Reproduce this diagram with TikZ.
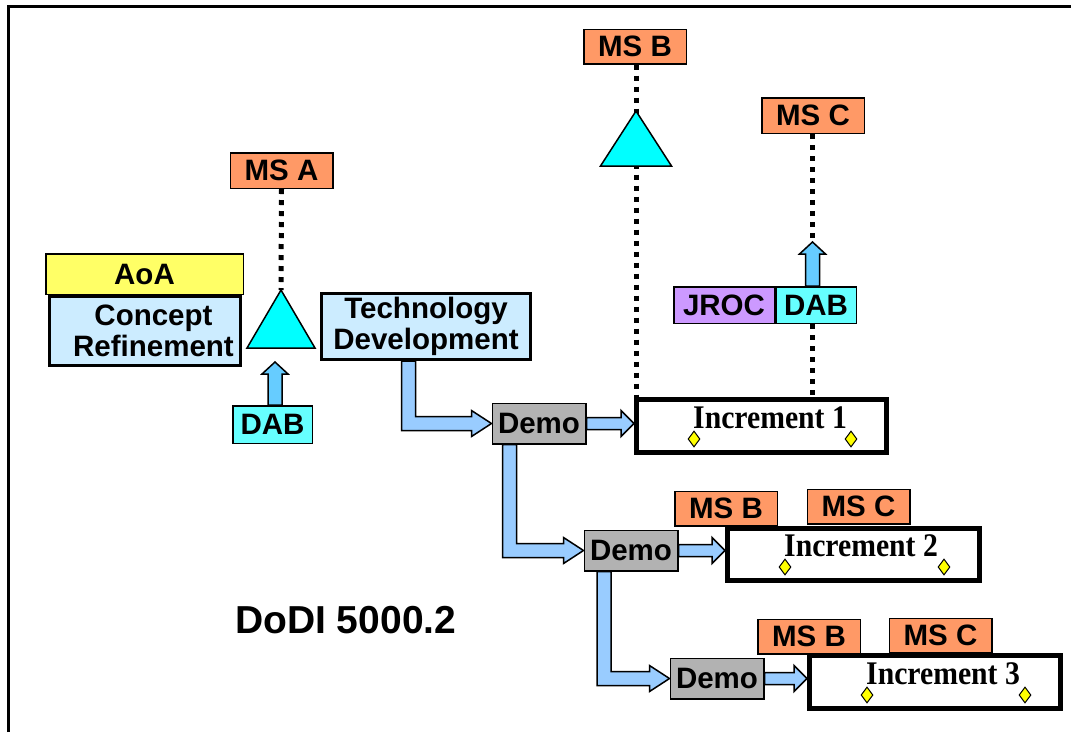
\documentclass[tikz,border=0pt]{standalone}
\usepackage{fontspec}
\setmainfont{Liberation Sans}
\newfontfamily\incfont[FakeStretch=0.9]{Liberation Serif}
\usetikzlibrary{calc,positioning,shapes.geometric}
\definecolor{msorange}{HTML}{FF9966}
\definecolor{aoayellow}{HTML}{FFFF66}
\definecolor{phaseblue}{HTML}{CCECFF}
\definecolor{dabcyan}{HTML}{66FFFF}
\definecolor{jrocpurple}{HTML}{CC99FF}
\definecolor{demogray}{HTML}{B2B2B2}
\definecolor{flowblue}{HTML}{99CCFF}
\definecolor{dabblue}{HTML}{66CCFF}
\definecolor{gatecyan}{HTML}{00FFFF}
\definecolor{gemyellow}{HTML}{FFFF00}
\newcommand{\boxfont}{\fontsize{29.5}{31}\selectfont\bfseries}

\begin{document}
\begin{tikzpicture}[x=1pt,y=-1pt,
    lbl/.style={draw,line width=1.5pt,inner sep=0pt,font=\boxfont},
    ms/.style={lbl,fill=msorange,minimum width=102.5pt,minimum height=34.5pt},
    phase/.style={lbl,fill=phaseblue,line width=3pt,align=center},
    demo/.style={lbl,fill=demogray,minimum width=93.5pt,minimum height=40.5pt},
    inc/.style={draw,line width=5pt,fill=white,inner sep=0pt,minimum height=53pt},
    inctext/.style={inner sep=0pt,font=\incfont\bfseries\fontsize{33}{35}\selectfont},
    gem/.style={diamond,draw,fill=gemyellow,line width=1pt,inner sep=0pt,minimum width=12pt,minimum height=16pt},
    gate/.style={draw,fill=gatecyan,line width=1.5pt},
    msline/.style={line width=5pt,dash pattern=on 5pt off 6pt},
    flow/.style={draw,fill=flowblue,line width=1.5pt},
    dabflow/.style={flow,fill=dabblue}]
\useasboundingbox (0,0) rectangle (1071,732);
\draw[line width=3pt] (8,732) -- (8,6) -- (1075,6);

% phases
\node[lbl,fill=aoayellow,minimum width=197.5pt,minimum height=40.5pt] (aoa) at (144.5,274) {AoA};
\node[phase,minimum width=191pt,minimum height=69pt] (cr) at (145,331) {\hspace*{17pt}Concept\\\hspace*{17pt}Refinement};
\node[phase,minimum width=209pt,minimum height=66pt] (td) at (426,326.5) {Technology\\Development};

% milestone A
\node[ms,minimum height=35.5pt] (msA) at (281.5,170.5) {MS A};
\coordinate (triA) at (281,290);
\draw[msline] (msA.south) -- (triA);
\draw[gate] (triA) -- ++(34,58) -- ++(-68,0) -- cycle;
\node[lbl,fill=dabcyan,minimum width=79.5pt,minimum height=37.5pt] (dabA) at (272.5,424.5) {DAB};
\coordinate (dabAtip) at (275,362);
\draw[dabflow] let \p1=($(dabA.north)+(2.5,0)$), \p2=(dabAtip) in
    (\x1-7pt,\y1) -- (\x1-7pt,\y2-12pt) -- (\x1-13pt,\y2-12pt) -- (\x1,\y2)
    -- (\x1+13pt,\y2-12pt) -- (\x1+7pt,\y2-12pt) -- (\x1+7pt,\y1) -- cycle;

% demos and increments
\node[demo] (demoA) at (539,423.5) {Demo};
\node[demo] (demoB) at (631,550.5) {Demo};
\node[demo] (demoC) at (717,678.5) {Demo};
\node[ms] (msB2) at (726,508.5) {MS B};
\node[ms] (msC2) at (858.5,506.5) {MS C};
\node[ms] (msB3) at (809,636.5) {MS B};
\node[ms] (msC3) at (940.5,635.5) {MS C};
\node[inc,minimum width=250pt] (incA) at (761.5,426) {};
\node[inc,minimum width=252pt,minimum height=52pt] (incB) at (853.5,554.5) {};
\node[inc,minimum width=251pt] (incC) at (935,682) {};
\foreach \i/\n in {incA/1,incB/2,incC/3}{
  \node[inctext,anchor=base west] (\i-t) at ($(\i.south west)+(59,-27)$) {Increment \n};
  \node[gem] (\i-l) at ($(\i.south west)+(60,-16)$) {};
  \node[gem] (\i-r) at ($(\i.south east)+(-38,-16)$) {};
}

% milestones B and C
\node[ms] (msB1) at (635,46.5) {MS B};
\coordinate (triB) at (636,111);
\draw[msline] (msB1.south -| triB) -- (triB |- incA.north);
\draw[gate] (triB) -- ++(35.5,55) -- ++(-71,0) -- cycle;
\node[ms,minimum height=35.5pt] (msC1) at (813,115.5) {MS C};
\node[lbl,fill=jrocpurple,minimum width=100.5pt,minimum height=36.5pt] (jroc) at (724,305) {JROC};
\node[lbl,fill=dabcyan,minimum width=80.5pt,minimum height=36.5pt,right=0pt of jroc] (dabB) {DAB};
\coordinate (dabBtip) at (812.5,242);
\draw[msline] (msC1.south -| dabBtip) -- (dabBtip);
\draw[msline] (dabBtip |- dabB.south) -- (dabBtip |- incA.north);
\draw[dabflow] let \p1=(dabBtip |- dabB.north), \p2=(dabBtip) in
    (\x1-7pt,\y1) -- (\x1-7pt,\y2-12pt) -- (\x1-13pt,\y2-12pt) -- (\x1,\y2)
    -- (\x1+13pt,\y2-12pt) -- (\x1+7pt,\y2-12pt) -- (\x1+7pt,\y1) -- cycle;

% flow arrows
\foreach \src/\dst/\off in {td/demoA/88.5,demoA/demoB/18,demoB/demoC/20.5}
  \draw[flow] let \p1=($(\src.south west)+(\off,0)$), \p2=(\dst.west) in
    (\x1-7pt,\y1) -- (\x1-7pt,\y2-7pt) -- (\x2-20pt,\y2-7pt) -- (\x2-20pt,\y2-13pt) -- (\x2,\y2)
    -- (\x2-20pt,\y2+13pt) -- (\x2-20pt,\y2+7pt) -- (\x1+7pt,\y2+7pt) -- (\x1+7pt,\y1) -- cycle;
\foreach \src/\dst in {demoA/incA,demoB/incB,demoC/incC}
  \draw[flow] let \p1=(\src.east), \p2=(\dst.west) in
    (\x1,\y1+6pt) -- (\x2-13pt,\y1+6pt) -- (\x2-13pt,\y1+13pt) -- (\x2,\y1)
    -- (\x2-13pt,\y1-13pt) -- (\x2-13pt,\y1-6pt) -- (\x1,\y1-6pt) -- cycle;

\node[anchor=base west,inner sep=0pt,font=\fontsize{39}{41}\selectfont\bfseries] (dodi) at (235,633) {DoDI 5000.2};
\end{tikzpicture}
\end{document}
